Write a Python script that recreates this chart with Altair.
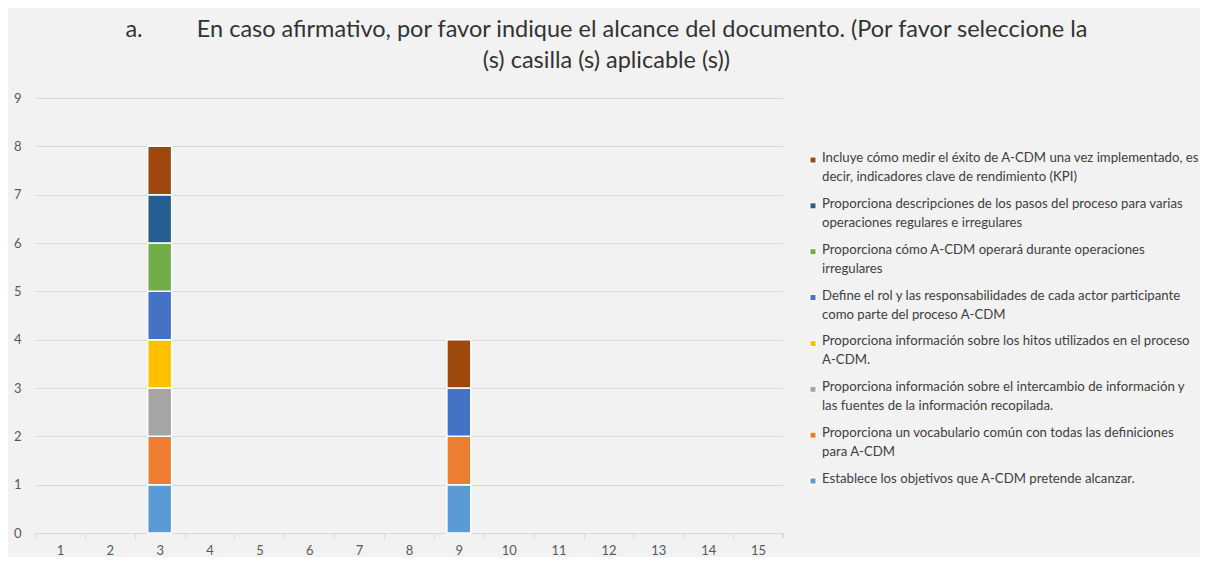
import altair as alt
import pandas as pd

categories = list(range(1, 16))

series_names = [
    "Establece los objetivos que A-CDM pretende alcanzar.",
    "Proporciona un vocabulario común con todas las definiciones para A-CDM",
    "Proporciona información sobre el intercambio de información y las fuentes de la información recopilada.",
    "Proporciona información sobre los hitos utilizados en el proceso A-CDM.",
    "Define el rol y las responsabilidades de cada actor participante como parte del proceso A-CDM",
    "Proporciona cómo A-CDM operará durante operaciones irregulares",
    "Proporciona descripciones de los pasos del proceso para varias operaciones regulares e irregulares",
    "Incluye cómo medir el éxito de A-CDM una vez implementado, es decir, indicadores clave de rendimiento (KPI)",
]

legend_labels = [
    "Establece los objetivos que A-CDM pretende alcanzar.",
    "Proporciona un vocabulario común con todas las definiciones\npara A-CDM",
    "Proporciona información sobre el intercambio de información y\nlas fuentes de la información recopilada.",
    "Proporciona información sobre los hitos utilizados en el proceso\nA-CDM.",
    "Define el rol y las responsabilidades de cada actor participante\ncomo parte del proceso A-CDM",
    "Proporciona cómo A-CDM operará durante operaciones\nirregulares",
    "Proporciona descripciones de los pasos del proceso para varias\noperaciones regulares e irregulares",
    "Incluye cómo medir el éxito de A-CDM una vez implementado, es\ndecir, indicadores clave de rendimiento (KPI)",
]

colors = ["#5B9BD5", "#ED7D31", "#A5A5A5", "#FFC000", "#4472C4", "#70AD47", "#255E91", "#9E480E"]

s1 = [0, 0, 1, 0, 0, 0, 0, 0, 1, 0, 0, 0, 0, 0, 0]
s2 = [0, 0, 1, 0, 0, 0, 0, 0, 1, 0, 0, 0, 0, 0, 0]
s3 = [0, 0, 1, 0, 0, 0, 0, 0, 0, 0, 0, 0, 0, 0, 0]
s4 = [0, 0, 1, 0, 0, 0, 0, 0, 0, 0, 0, 0, 0, 0, 0]
s5 = [0, 0, 1, 0, 0, 0, 0, 0, 1, 0, 0, 0, 0, 0, 0]
s6 = [0, 0, 1, 0, 0, 0, 0, 0, 0, 0, 0, 0, 0, 0, 0]
s7 = [0, 0, 1, 0, 0, 0, 0, 0, 0, 0, 0, 0, 0, 0, 0]
s8 = [0, 0, 1, 0, 0, 0, 0, 0, 1, 0, 0, 0, 0, 0, 0]
series_values = [s1, s2, s3, s4, s5, s6, s7, s8]

NB = "\u00a0"
title_lines = [
    "a." + NB * 9 + "En caso afirmativo, por favor indique el alcance del documento. (Por favor seleccione la",
    "(s) casilla (s) aplicable (s))",
]

FONT = "Lato"

rows = []
for i, (name, vals) in enumerate(zip(series_names, series_values)):
    for c, v in zip(categories, vals):
        if v:
            rows.append({"cat": c, "serie": name, "idx": i, "val": v})
df = pd.DataFrame(rows)

W, H = 748, 435
step = W / 15

bars = alt.Chart(df).mark_bar(stroke="white", strokeWidth=1.5).encode(
    x=alt.X(
        "cat:O",
        scale=alt.Scale(domain=categories, paddingInner=0.52, paddingOuter=0.26),
        axis=alt.Axis(
            title=None, labelAngle=0, ticks=True, tickSize=5, tickColor="#d9d9d9",
            domainColor="#d9d9d9", tickOffset=-step / 2, labelOffset=step / 2,
            labelPadding=6, labelFontSize=13, labelColor="#595959", labelFont=FONT,
        ),
    ),
    y=alt.Y(
        "val:Q",
        stack="zero",
        scale=alt.Scale(domain=[0, 9], nice=False),
        axis=alt.Axis(
            title=None, values=list(range(0, 10)), domain=False, ticks=False,
            gridColor="#d9d9d9", labelPadding=14, labelFontSize=13,
            labelColor="#595959", labelFont=FONT,
        ),
    ),
    color=alt.Color("serie:N", scale=alt.Scale(domain=series_names, range=colors), legend=None),
    order=alt.Order("idx:Q", sort="ascending"),
)

end_tick = alt.Chart(df).mark_rule(color="#d9d9d9").encode(
    x=alt.value(W), y=alt.value(H), y2=alt.value(H + 5)
)

main = alt.layer(bars, end_tick).properties(width=W, height=H)

leg_df = pd.DataFrame({
    "pos": list(range(8)),
    "label": legend_labels[::-1],
    "serie": series_names[::-1],
})

ybase = alt.Y("pos:O", axis=None, scale=alt.Scale(type="point", range=[62, 383], padding=0))
leg_sym = alt.Chart(leg_df).mark_square(size=36, stroke="white", strokeWidth=1, opacity=1).encode(
    x=alt.value(5),
    y=ybase,
    color=alt.Color("serie:N", scale=alt.Scale(domain=series_names, range=colors), legend=None),
)
leg_txt = alt.Chart(leg_df).mark_text(
    align="left", baseline="top", dy=-8, lineBreak="\n", lineHeight=19,
    font=FONT, fontSize=13.2, color="#404040",
).encode(
    x=alt.value(14),
    y=ybase,
    text="label:N",
)
legend = alt.layer(leg_sym, leg_txt).properties(width=370, height=H)

chart = alt.hconcat(main, legend, spacing=24).properties(
    title=alt.TitleParams(
        text=title_lines, font=FONT, fontSize=23.5, fontWeight="normal",
        color="#333333", anchor="middle", lineHeight=31, offset=20,
    ),
    background="#f2f2f2",
    padding={"left": 5, "top": 9, "right": 0, "bottom": 0},
).configure_view(stroke=None).configure_concat(spacing=24)

chart.save("out.html", embed_options={"renderer": "svg", "actions": False})
